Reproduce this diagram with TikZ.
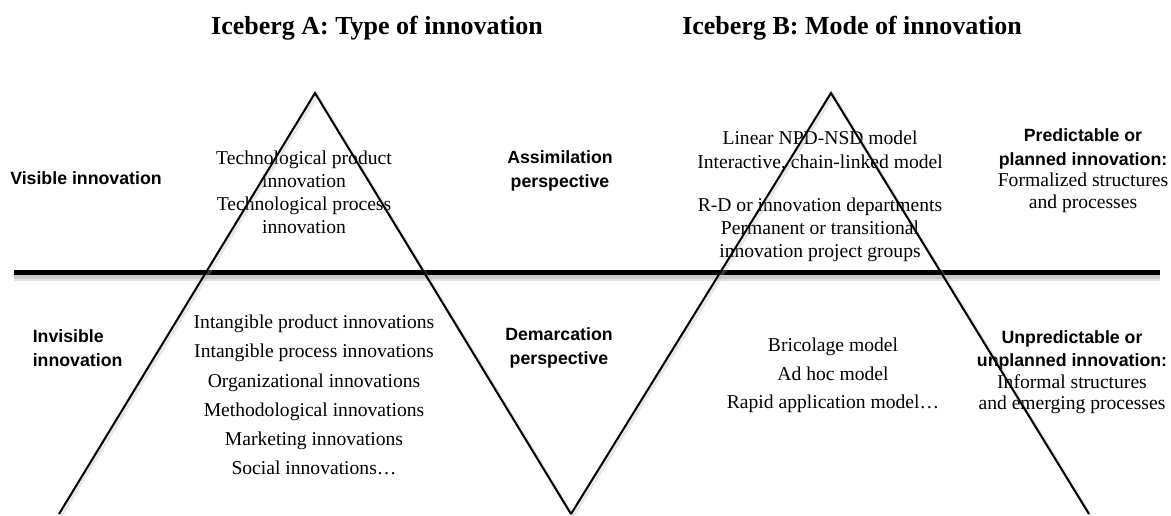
\documentclass[tikz,border=0pt]{standalone}
\usepackage{fontspec}
\setmainfont{Liberation Serif}
\newfontfamily\labelfont{Liberation Sans}
\usepackage{tikz}

\begin{document}
\begin{tikzpicture}[x=0.75pt, y=-0.75pt,
	iceberg/.style={line width=1.5pt, line join=miter},
	bergshadow/.style={black!30, opacity=.3, line width=2.5pt, transform canvas={xshift=1.5pt, yshift=-1.5pt}},
	waterline/.style={line width=3.4pt},
	headline/.style={font=\bfseries\fontsize{19.5}{23}\selectfont, inner sep=0pt},
	itemtext/.style={font=\fontsize{14.7}{21.9}\selectfont, align=center, inner sep=0pt},
	sidelabel/.style={font=\labelfont\bfseries\fontsize{13.3}{18}\selectfont, align=center, inner sep=0pt}]
	\fill[white, fill opacity=0] (0,0) rectangle (1171,514); % Rand um Grafik
	
	% Ueberschriften
	\node[headline] (titleA) at (377,28) {Iceberg A: Type of innovation};
	\node[headline] (titleB) at (852,28) {Iceberg B: Mode of innovation};
	
	% Eckpunkte der Eisberge
	\coordinate (tipA) at (315,93);
	\coordinate (footAl) at (59,514);
	\coordinate (footAr) at (571,514);
	\coordinate (tipB) at (831,93);
	\coordinate (footBl) at (571,514);
	\coordinate (footBr) at (1089,514);
	\coordinate (wlW) at (14,272.5);
	\coordinate (wlE) at (1160,272.5);
	
	% oben: sichtbar
	\node[sidelabel, anchor=west] (visible) at (10,178) {Visible innovation};
	\node[itemtext, font=\fontsize{14.7}{17.25}\selectfont] (techA) at (304,192.5)
		{Technological product\\ innovation\\ Technological process\\ innovation};
	\node[sidelabel] (assim) at (560,170.5) {Assimilation\\ perspective};
	\node[itemtext, font=\fontsize{14.7}{18}\selectfont] (linearB) at (820,151)
		{Linear NPD-NSD model\\ Interactive, chain-linked model};
	\node[itemtext, font=\fontsize{14.7}{17.25}\selectfont] (deptB) at (820,230)
		{R-D or innovation departments\\ Permanent or transitional\\ innovation project groups};
	\node[sidelabel] (plannedhead) at (1083,149) {Predictable or\\ planned innovation:};
	\node[itemtext, font=\fontsize{14.7}{16.5}\selectfont] (plannedtext) at (1083,193)
		{Formalized structures\\ and processes};
	
	% unten: unsichtbar
	\node[sidelabel, align=left, anchor=west] (invisible) at (32.5,348) {Invisible\\ innovation};
	\node[itemtext] (itemsA) at (314,395)
		{Intangible product innovations\\ Intangible process innovations\\ Organizational innovations\\
		 Methodological innovations\\ Marketing innovations\\ Social innovations…};
	\node[sidelabel] (demarc) at (559,348) {Demarcation\\ perspective};
	\node[itemtext, font=\fontsize{14.7}{21.4}\selectfont] (modelsB) at (833,375.5)
		{Bricolage model\\ Ad hoc model\\ Rapid application model…};
	\node[sidelabel, font=\labelfont\bfseries\fontsize{13.3}{17.25}\selectfont] (unplannedhead) at (1072,350.5)
		{Unpredictable or\\ unplanned innovation:};
	\node[itemtext, font=\fontsize{14.7}{15.75}\selectfont] (unplannedtext) at (1072,394.5)
		{Informal structures\\ and emerging processes};
	
	% Wasserlinie mit Schatten
	\draw[black!30, opacity=.35, line width=7pt, transform canvas={yshift=-3pt}] (wlW) -- (wlE);
	\draw[black!40, opacity=.35, line width=4pt, transform canvas={yshift=-2.5pt}] (wlW) -- (wlE);
	\draw[waterline] (wlW) -- (wlE);
	
	% Eisberge
	\draw[bergshadow] (footAl) -- (tipA) -- (footAr);
	\draw[bergshadow] (footBl) -- (tipB) -- (footBr);
	\draw[iceberg] (footAl) -- (tipA) -- (footAr);
	\draw[iceberg] (footBl) -- (tipB) -- (footBr);
	
	%\draw[help lines, step=50] (0,0) grid (1171,514);
\end{tikzpicture}
\end{document}
